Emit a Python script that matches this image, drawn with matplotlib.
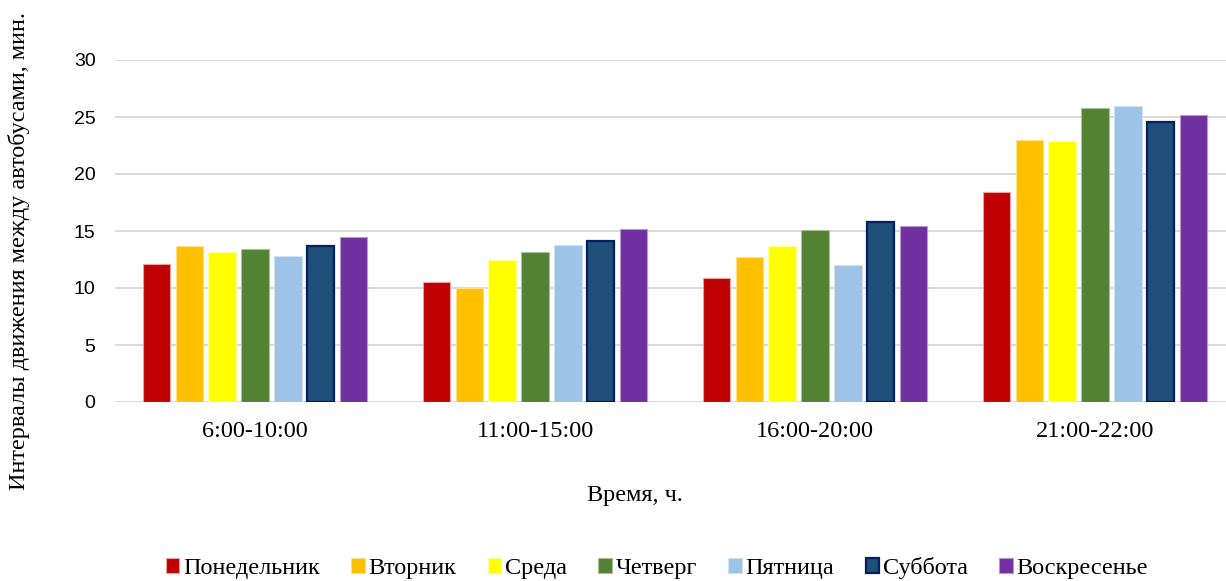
import matplotlib
matplotlib.use("Agg")
import matplotlib.pyplot as plt
import matplotlib.patches as mpatches
import numpy as np

# Time periods on the x axis
periods = ["6:00-10:00", "11:00-15:00", "16:00-20:00", "21:00-22:00"]

# Days of the week (series)
days = ["Понедельник", "Вторник", "Среда", "Четверг", "Пятница", "Суббота", "Воскресенье"]

# Bus intervals, minutes, per day for each period
monday    = [12.1, 10.5, 10.9, 18.4]
tuesday   = [13.7, 10.0, 12.7, 23.0]
wednesday = [13.2, 12.5, 13.7, 22.9]
thursday  = [13.4, 13.2, 15.05, 25.75]
friday    = [12.8, 13.8, 12.0, 26.0]
saturday  = [13.7, 14.15, 15.8, 24.6]
sunday    = [14.5, 15.2, 15.4, 25.2]

series = [monday, tuesday, wednesday, thursday, friday, saturday, sunday]

y_ticks = [0, 5, 10, 15, 20, 25, 30]

fills = ["#C00000", "#FFC000", "#FFFF00", "#548235", "#9DC3E6", "#1F4E79", "#7030A0"]
edges = ["#E8A0A0", "#FFE08A", "#FFFF99", "#A9C19A", "#CFE1F3", "#002060", "#B898CF"]
edge_w = [0.8, 0.8, 0.8, 0.8, 0.8, 1.6, 0.8]

W, H = 1226, 581
fig = plt.figure(figsize=(W / 100, H / 100), dpi=100)
fig.patch.set_facecolor("white")

# plot area in pixel coordinates (extends past the right edge)
left, right, top, bottom = 115, 1235, 60, 402
ax = fig.add_axes([left / W, 1 - bottom / H, (right - left) / W, (bottom - top) / H])

x = np.arange(len(periods))
pitch = 0.1171
width = 0.098
for i, vals in enumerate(series):
    ax.bar(x + (i - 3) * pitch, vals, width=width, color=fills[i],
           edgecolor=edges[i], linewidth=edge_w[i], zorder=3, label=days[i])

ax.set_xlim(-0.5, 3.5)
ax.set_ylim(0, 30)
ax.set_yticks(y_ticks)
ax.set_xticks(x)
ax.set_xticklabels(periods, fontfamily="Liberation Serif", fontsize=17.5)
ax.set_yticklabels([str(t) for t in y_ticks], fontfamily="Liberation Sans", fontsize=14)
ax.tick_params(axis="y", length=0, pad=14)
ax.tick_params(axis="x", length=0, pad=14)
ax.yaxis.grid(True, color="#D9D9D9", linewidth=1.4, zorder=0)
ax.set_axisbelow(True)
for s in ax.spines.values():
    s.set_visible(False)

fig.text(19 / W, 1 - 251 / H, "Интервалы движения между автобусами, мин.",
         rotation=90, ha="center", va="center",
         fontfamily="Liberation Serif", fontsize=17.5)
fig.text(635 / W, 1 - 495 / H, "Время, ч.", ha="center", va="center",
         fontfamily="Liberation Serif", fontsize=17.5)

handles = [mpatches.Patch(facecolor=fills[i], edgecolor=edges[i],
                          linewidth=edge_w[i]) for i in range(len(days))]
fig.legend(handles, days, loc="center", bbox_to_anchor=(657 / W, 1 - 568 / H),
           ncol=7, frameon=False, handlelength=0.55, handleheight=0.6,
           handletextpad=0.15, columnspacing=1.3, borderpad=0,
           prop={"family": "Liberation Serif", "size": 17.5})

fig.savefig("out.png", dpi=100, facecolor="white")
